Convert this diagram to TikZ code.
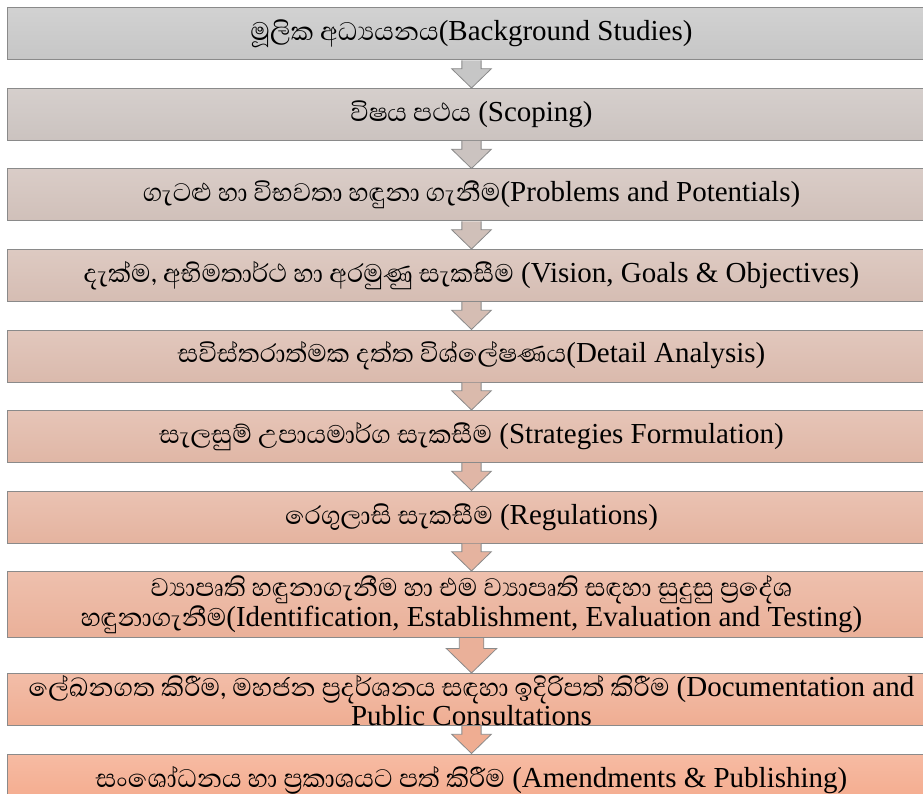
\documentclass[tikz,border=0pt]{standalone}
\usepackage{fontspec}
\setmainfont{Liberation Serif}[Ligatures=TeX]
\newfontfamily\latinfont{Liberation Serif}
\newfontfamily\sinhalafont[Script=Sinhala, Scale=1.12]{Abhaya Libre}
\usetikzlibrary{positioning}
\usetikzlibrary{calc}

\definecolor{greystep}{RGB}{198,198,198}
\definecolor{salmonstep}{RGB}{244,170,140}
\definecolor{edgegrey}{RGB}{138,138,138}
\newcommand{\si}[1]{{\sinhalafont #1}}

\begin{document}
\begin{tikzpicture}[x=1pt, y=1pt,
    stage/.style={rectangle, draw=edgegrey, line width=1pt, minimum width=929pt, minimum height=52pt,
        inner sep=0pt, align=center, font=\latinfont\fontsize{29}{30}\selectfont,
        top color=salmonstep!#1!greystep!80!white, bottom color=salmonstep!#1!greystep},
    stagetext/.style={inner sep=0pt, align=center, font=\latinfont\fontsize{29}{25}\selectfont},
    flow/.style={draw=edgegrey, line width=0.8pt, fill=salmonstep!#1!greystep}
]
\useasboundingbox (0,0) rectangle (923,-794);
\clip (0,0) rectangle (923,-794);

% Stages (top to bottom)
\node[stage=0] (b1) at (471.5,-34) {\si{මූලික අධ්‍යයනය}(Background Studies)};
\node[stage=11, below=27.5pt of b1] (b2) {\si{විෂය පථය} (Scoping)};
\node[stage=22, below=27.5pt of b2] (b3) {\si{ගැටළු හා විභවතා හඳුනා ගැනීම}(Problems and Potentials)};
\node[stage=33, below=27.5pt of b3] (b4) {\si{දැක්ම, අභිමතාර්ථ හා අරමුණු සැකසීම} (Vision, Goals \& Objectives)};
\node[stage=44, below=27.5pt of b4] (b5) {\si{සවිස්තරාත්මක දත්ත විශ්ලේෂණය}(Detail Analysis)};
\node[stage=56, below=27.5pt of b5] (b6) {\si{සැලසුම් උපායමාර්ග සැකසීම} (Strategies Formulation)};
\node[stage=67, below=27.5pt of b6] (b7) {\si{රෙගුලාසි සැකසීම} (Regulations)};
\node[stage=78, below=27.5pt of b7, minimum height=66pt] (b8) {\si{ව්‍යාපෘති හඳුනාගැනීම හා එම ව්‍යාපෘති සඳහා සුදුසු ප්‍රදේශ}\\
    \si{හඳුනාගැනීම}(Identification, Establishment, Evaluation and Testing)};
\node[stage=89, below=35pt of b8] (b9) {};
\node[stagetext] (t9) at ($(b9.center)+(0,-1)$) {\si{ලේඛනගත කිරීම, මහජන ප්‍රදර්ශනය සඳහා ඉදිරිපත් කිරීම} (Documentation and\\
    Public Consultations};
\node[stage=100, below=27.5pt of b9] (b10) {\si{සංශෝධනය හා ප්‍රකාශයට පත් කිරීම} (Amendments \& Publishing)};

% Block arrows between stages
\foreach \a/\b/\pc in {1/2/0, 2/3/11, 3/4/22, 4/5/33, 5/6/44, 6/7/56, 7/8/67, 8/9/78, 9/10/89} {
   \path[flow=\pc] let \p1=(b\a.south), \p2=(b\b.north), \n1={\y1-\y2} in
      (\x1-0.35*\n1,\y1) -- (\x1-0.35*\n1,\y2+0.7*\n1) -- (\x1-0.72*\n1,\y2+0.7*\n1) -- (\x1,\y2)
      -- (\x1+0.72*\n1,\y2+0.7*\n1) -- (\x1+0.35*\n1,\y2+0.7*\n1) -- (\x1+0.35*\n1,\y1);
}

\end{tikzpicture}
\end{document}
